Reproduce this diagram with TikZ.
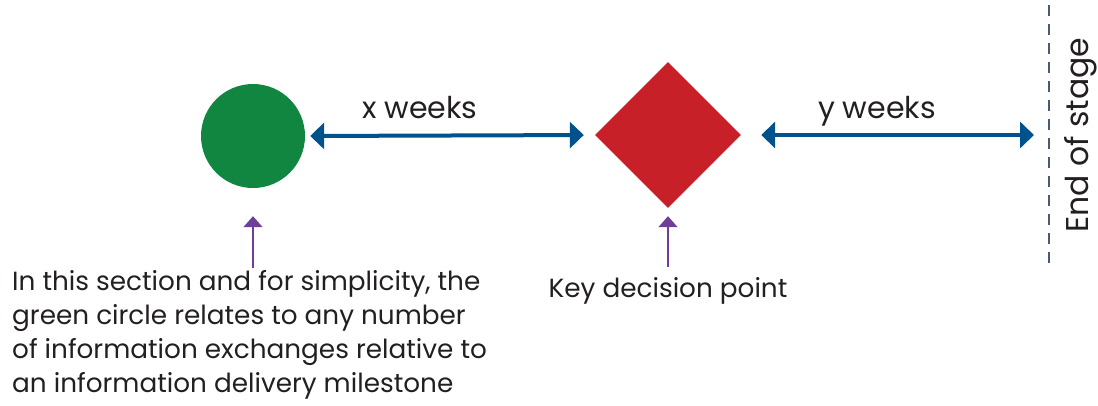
\documentclass[tikz,border=0pt]{standalone}
\usepackage{fontspec}
\setmainfont{Poppins}
\usetikzlibrary{arrows.meta,shapes.geometric}
\definecolor{cgreen}{RGB}{16,134,64}
\definecolor{cred}{RGB}{200,32,40}
\definecolor{cblue}{RGB}{0,82,140}
\definecolor{cpurple}{RGB}{112,62,150}
\definecolor{cdash}{RGB}{75,90,110}
\definecolor{ctext}{RGB}{35,31,32}
\tikzset{
  blueline/.style={draw=cblue,line width=4pt,{Triangle[width=26pt,length=14pt]}-{Triangle[width=26pt,length=14pt]}},
  purplearrow/.style={draw=cpurple,line width=1.5pt,-{Triangle[width=19pt,length=11pt]}},
  lbl/.style={text=ctext,font=\fontsize{26.3}{34}\selectfont,inner sep=0pt},
  biglbl/.style={text=ctext,font=\fontsize{30}{36}\selectfont,inner sep=0pt},
}
\begin{document}
\begin{tikzpicture}[x=1pt,y=-1pt]
\useasboundingbox (0,0) rectangle (1098,405);
\node[circle,fill=cgreen,minimum size=104pt,inner sep=0pt] (c) at (253,136) {};
\node[diamond,fill=cred,minimum width=146pt,minimum height=146pt,inner sep=0pt] (d) at (668,135) {};
\coordinate (st) at (1049,5);
\coordinate (sb) at (1049,265);
\coordinate (e) at (1034,135);
\draw[cdash,line width=2.5pt,dash pattern=on 11pt off 8pt] (st) -- (sb);
\draw[blueline,shorten <=5pt,shorten >=11pt] (c.east) -- (d.west);
\draw[blueline,shorten <=20pt] (d.east) -- (e);
\node[biglbl,anchor=base] (xw) at (420,118) {x weeks};
\node[biglbl,anchor=base] (yw) at (877,118) {y weeks};
\node[biglbl,font=\fontsize{31.5}{36}\selectfont,rotate=90,anchor=base] (es) at (1088,135) {End of stage};
\node[lbl,anchor=base west,align=left] (t1) at (12,392) {In this section and for simplicity, the\\green circle relates to any number\\of information exchanges relative to\\an information delivery milestone};
\node[lbl,anchor=base] (t2) at (668,297) {Key decision point};
\coordinate (p1) at (253,268);
\coordinate (p2) at (668,267);
\draw[purplearrow,shorten >=28pt] (p1) -- (c.south);
\draw[purplearrow,shorten >=8pt] (p2) -- (d.south);
\end{tikzpicture}
\end{document}
